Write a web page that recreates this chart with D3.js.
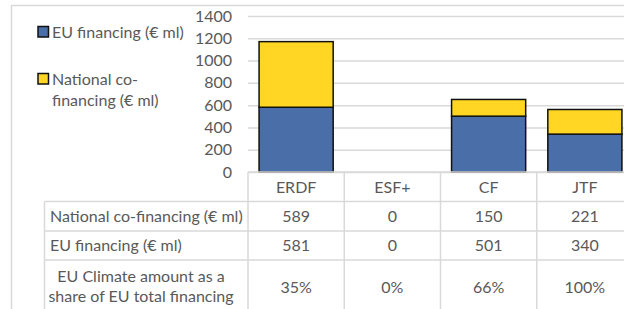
<!DOCTYPE html>
<html>
<head>
<meta charset="utf-8">
<script src="https://cdn.jsdelivr.net/npm/d3@7"></script>
<style>
  body { margin: 0; background: #fff; }
  text { font-family: Lato, "Open Sans", sans-serif; fill: #595959; }
</style>
</head>
<body>
<div id="chart"></div>
<script>
// data
const categories = ['ERDF', 'ESF+', 'CF', 'JTF'];
const euFinancing = [581, 0, 501, 340];
const nationalCofinancing = [589, 0, 150, 221];
const climateShare = ['35%', '0%', '66%', '100%'];
const yTicks = [0, 200, 400, 600, 800, 1000, 1200, 1400];

const seriesNames = ['EU financing (€ ml)', 'National co-financing (€ ml)'];
const colors = ['#4a6ea8', '#ffd624'];

const width = 624, height = 309;
const plot = {left: 248, right: 633, top: 16, bottom: 172};
const gridColor = '#d9d9d9';
const fontSize = 16;

let svg = d3.select('#chart').append('svg')
    .attr('width', width)
    .attr('height', height);

// outer chart frame
svg.append('rect')
    .attr('x', 11.5).attr('y', 5.5)
    .attr('width', 700).attr('height', 400)
    .attr('fill', 'none')
    .attr('stroke', gridColor)
    .attr('stroke-width', 1.5);

const xScale = d3.scaleBand()
    .domain(categories)
    .range([plot.left, plot.right])
    .paddingInner(0.23)
    .paddingOuter(0.115);

const yScale = d3.scaleLinear()
    .domain([0, 1400])
    .range([plot.bottom, plot.top]);

// gridlines + y labels
const yAxis = d3.axisLeft(yScale)
    .tickValues(yTicks)
    .tickFormat(d3.format('d'))
    .tickSize(-(plot.right - plot.left))
    .tickPadding(16);

let yg = svg.append('g')
    .attr('transform', `translate(${plot.left},0)`)
    .call(yAxis);
yg.select('.domain').remove();
yg.selectAll('.tick line')
    .attr('stroke', gridColor)
    .attr('stroke-width', 1.5);
yg.selectAll('.tick text')
    .attr('font-size', fontSize)
    .attr('font-family', 'Lato, sans-serif')
    .attr('fill', '#595959');

// stacked bars
const rows = categories.map((c, i) => ({cat: c, eu: euFinancing[i], nat: nationalCofinancing[i]}));
const stack = d3.stack().keys(['eu', 'nat'])(rows);

svg.append('g').selectAll('g')
    .data(stack)
    .enter()
    .append('g')
        .attr('fill', (d, i) => colors[i])
    .selectAll('rect')
    .data(d => d.filter(p => p[1] - p[0] > 0))
    .enter()
    .append('rect')
        .attr('x', d => xScale(d.data.cat))
        .attr('y', d => yScale(d[1]))
        .attr('width', xScale.bandwidth())
        .attr('height', d => yScale(d[0]) - yScale(d[1]))
        .attr('stroke', '#111')
        .attr('stroke-width', 1.5);

// legend
const legend = svg.append('g');
const legendItems = [
    {y: 32, lines: [seriesNames[0]]},
    {y: 79, lines: ['National co-', 'financing (€ ml)']}
];
legendItems.forEach((item, i) => {
    legend.append('rect')
        .attr('x', 38).attr('y', item.y - 5.5)
        .attr('width', 10.5).attr('height', 10.5)
        .attr('fill', colors[i])
        .attr('stroke', '#111')
        .attr('stroke-width', 1.5);
    item.lines.forEach((l, j) => {
        legend.append('text')
            .attr('x', 52)
            .attr('y', item.y + j * 21)
            .attr('dy', '0.35em')
            .attr('font-size', fontSize)
            .text(l);
    });
});

// data table
const step = xScale.step();
const colEdges = categories.map((c, i) => plot.left + i * step);
const rowLines = [172, 201.5, 231, 260, 318];
const labelLeft = 44.5;
const table = svg.append('g')
    .attr('stroke', gridColor)
    .attr('stroke-width', 1.5);

table.append('line')
    .attr('x1', plot.left).attr('x2', width + 20)
    .attr('y1', rowLines[0]).attr('y2', rowLines[0]);
rowLines.slice(1).forEach(y => {
    table.append('line')
        .attr('x1', labelLeft).attr('x2', width + 20)
        .attr('y1', y).attr('y2', y);
});
table.append('line')
    .attr('x1', labelLeft).attr('x2', labelLeft)
    .attr('y1', rowLines[1]).attr('y2', height + 20);
colEdges.forEach(x => {
    table.append('line')
        .attr('x1', x).attr('x2', x)
        .attr('y1', rowLines[0]).attr('y2', height + 20);
});

const cellText = (x, y, t, anchor) => svg.append('text')
    .attr('x', x).attr('y', y)
    .attr('dy', '0.35em')
    .attr('text-anchor', anchor || 'middle')
    .attr('font-size', fontSize)
    .text(t);

const centers = categories.map(c => xScale(c) + xScale.bandwidth() / 2);
categories.forEach((c, i) => {
    cellText(centers[i], 187, c);
    cellText(centers[i], 216.5, nationalCofinancing[i]);
    cellText(centers[i], 245.5, euFinancing[i]);
    cellText(centers[i], 287, climateShare[i]);
});
cellText(50, 216.5, 'National co-financing (€ ml)', 'start');
cellText(50, 245.5, 'EU financing (€ ml)', 'start');
cellText(141, 276, 'EU Climate amount as a');
cellText(141, 296.5, 'share of EU total financing');
</script>
</body>
</html>
